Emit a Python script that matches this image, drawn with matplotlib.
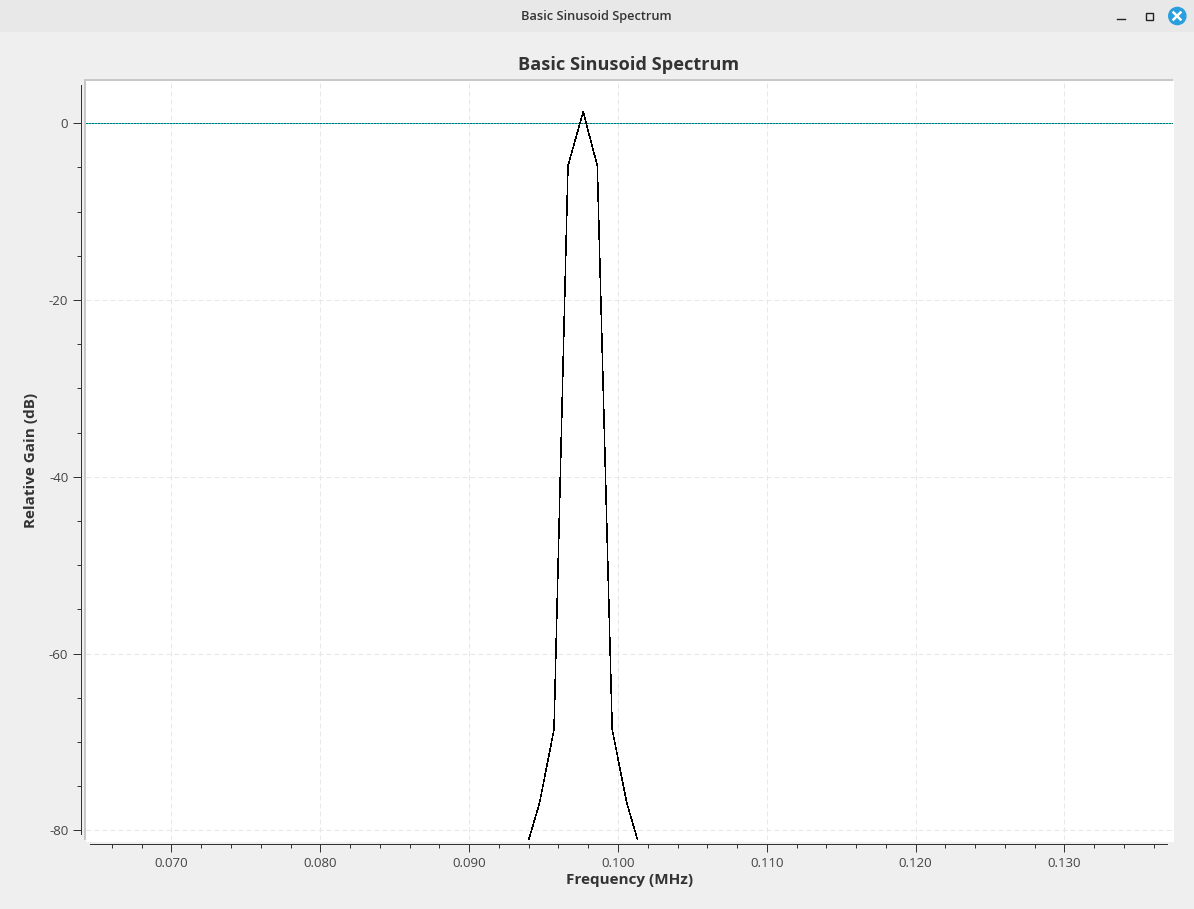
import numpy as np
import matplotlib
matplotlib.use('Agg')
import matplotlib.pyplot as plt
from matplotlib.patches import Circle, Rectangle
from matplotlib.ticker import MultipleLocator, FormatStrFormatter

# values
freq_mhz = [0.09375, 0.09473, 0.09570, 0.09664, 0.09766, 0.09861, 0.09961, 0.10059, 0.10156]
gain_db = [-82.5, -76.9, -68.6, -4.8, 1.3, -4.8, -68.6, -76.9, -82.5]
x_ticks = [0.070, 0.080, 0.090, 0.100, 0.110, 0.120, 0.130]
y_ticks = [0, -20, -40, -60, -80]
window_title = 'Basic Sinusoid Spectrum'

W, H = 1194, 909
PX = 0.72  # one pixel in points at dpi 100
plt.rcParams['font.family'] = ['Open Sans', 'DejaVu Sans']

fig = plt.figure(figsize=(W / 100, H / 100), dpi=100, facecolor='#efefef')

# plot area in window pixels
left, right, top, bottom = 86, 1173, 81, 840
ax = fig.add_axes([left / W, 1 - bottom / H, (right - left) / W, (bottom - top) / H])
ax.set_facecolor('white')

# pixel positions of known ticks give the limits
px_per_x = (1064.5 - 171.5) / 0.06
px_per_y = (830.3 - 123.3) / 80
ax.set_xlim(0.07 + (left - 171.5) / px_per_x, 0.07 + (right - 171.5) / px_per_x)
ax.set_ylim((123.3 - bottom) / px_per_y, (123.3 - top) / px_per_y)

ax.grid(True, which='major', color='#e6e6e6', linestyle=(0, (5, 3)), linewidth=PX)
ax.set_axisbelow(True)
ax.axhline(0, color='#00dcdc', linewidth=PX, zorder=2)
ax.axhline(0, color='black', linewidth=PX, linestyle=(0, (1, 2)), zorder=3)
ax.plot(freq_mhz, gain_db, color='black', linewidth=0.36, zorder=4, antialiased=False)

ax.set_xticks(x_ticks)
ax.set_yticks(y_ticks)
ax.xaxis.set_major_formatter(FormatStrFormatter('%.3f'))
ax.yaxis.set_major_formatter(FormatStrFormatter('%d'))
ax.xaxis.set_minor_locator(MultipleLocator(0.002))
ax.yaxis.set_minor_locator(MultipleLocator(5))
ax.tick_params(which='major', length=8 * PX, width=PX, color='#333333', labelsize=9.5,
               labelcolor='#444444', pad=3.6)
ax.tick_params(which='minor', length=4 * PX, width=PX, color='#333333')

for side in ['top', 'right']:
    ax.spines[side].set_visible(False)
ax.spines['left'].set_position(('outward', 4.7 * PX))
ax.spines['bottom'].set_position(('outward', 3.7 * PX))
for side in ['left', 'bottom']:
    ax.spines[side].set_color('#333333')
    ax.spines[side].set_linewidth(PX)
ax.spines['left'].set_bounds((123.3 - 834) / px_per_y, (123.3 - 85) / px_per_y)
ax.spines['bottom'].set_bounds(0.07 + (90 - 171.5) / px_per_x, 0.07 + (1167 - 171.5) / px_per_x)

ax.set_xlabel('Frequency (MHz)', fontsize=11, fontweight='bold', color='#333333', labelpad=2.5)
ax.set_ylabel('Relative Gain (dB)', fontsize=11, fontweight='bold', color='#333333', labelpad=8)

# canvas frame and window decoration, drawn in window pixels
chrome = fig.add_axes([0, 0, 1, 1], facecolor='none')
chrome.set_xlim(0, W)
chrome.set_ylim(H, 0)
chrome.axis('off')
chrome.add_patch(Rectangle((0, 0), W, 32, color='#e8e8e8', linewidth=0))
chrome.add_patch(Rectangle((84, 79), 1089, 2, color='#c8c8c8', linewidth=0))
chrome.add_patch(Rectangle((84, 79), 2, 761, color='#c8c8c8', linewidth=0))
chrome.add_patch(Rectangle((86, 840), 1088, 2, color='white', linewidth=0))
chrome.add_patch(Rectangle((1173, 81), 1, 761, color='white', linewidth=0))
chrome.text(596, 16.5, window_title, ha='center', va='center', fontsize=9.2, fontweight='semibold', color='#333333')
chrome.text(629, 65, 'Basic Sinusoid Spectrum', ha='center', va='center', fontsize=13.1, fontweight='bold', color='#333333')

chrome.plot([1117, 1125], [18.5, 18.5], color='#222222', linewidth=1)
chrome.add_patch(Rectangle((1145.5, 12.5), 7, 7, fill=False, edgecolor='#222222', linewidth=1))
chrome.add_patch(Circle((1177.3, 16), 9.3, color='#2a9fe0', linewidth=0))
chrome.plot([1173.5, 1180.5], [12.5, 19.5], color='white', linewidth=1.8)
chrome.plot([1173.5, 1180.5], [19.5, 12.5], color='white', linewidth=1.8)

fig.savefig('out.png', dpi=100, facecolor=fig.get_facecolor())
